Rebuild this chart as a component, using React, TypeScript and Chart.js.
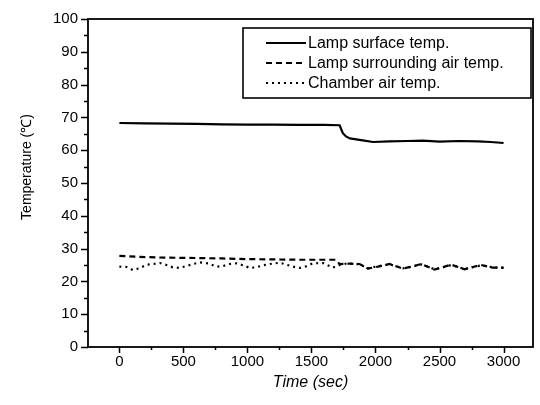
import { useEffect, useRef } from "react";
import { Chart, registerables } from "chart.js";
Chart.register(...registerables);

const seriesLabels = ["Lamp surface temp.", "Lamp surrounding air temp.", "Chamber air temp."];

const timeSurface = [0, 200, 400, 600, 800, 1000, 1200, 1400, 1600, 1720, 1745, 1770, 1800, 1850, 1900, 1980, 2110, 2250, 2370, 2500, 2650, 2800, 2900, 3000];
const lampSurface = [68.3, 68.2, 68.1, 68.0, 67.9, 67.8, 67.8, 67.7, 67.7, 67.6, 65.2, 64.2, 63.6, 63.3, 63.0, 62.5, 62.7, 62.8, 62.9, 62.6, 62.8, 62.7, 62.5, 62.2];

const timeSurround = [0, 150, 300, 450, 650, 800, 1000, 1200, 1400, 1600, 1690, 1720, 1800, 1876, 1941, 2030, 2110, 2214, 2290, 2357, 2461, 2530, 2591, 2695, 2760, 2825, 2915, 3000];
const lampSurround = [27.8, 27.5, 27.3, 27.2, 27.1, 27.0, 26.8, 26.7, 26.6, 26.6, 26.6, 25.3, 25.4, 25.3, 23.9, 24.6, 25.3, 23.9, 24.6, 25.3, 23.6, 24.4, 25.1, 23.7, 24.4, 25.0, 24.2, 24.2];

const timeChamber = [0, 57, 104, 156, 213, 265, 317, 369, 416, 468, 525, 577, 629, 694, 759, 811, 863, 915, 967, 1019, 1071, 1122, 1175, 1253, 1305, 1356, 1408, 1460, 1510, 1590, 1666, 1720, 1780, 1876, 1941, 2030, 2110, 2214, 2290, 2357, 2461, 2530, 2591, 2695, 2760, 2825, 2915, 3000];
const chamberAir = [24.5, 24.4, 23.5, 24.0, 25.1, 25.3, 25.6, 25.0, 24.3, 24.1, 24.7, 25.3, 25.8, 25.5, 24.5, 24.7, 25.3, 25.5, 24.9, 24.1, 24.3, 24.9, 25.3, 25.7, 25.1, 24.5, 24.1, 24.6, 25.5, 25.6, 24.2, 25.0, 25.5, 25.2, 24.0, 24.7, 25.2, 24.0, 24.5, 25.2, 23.7, 24.3, 25.0, 23.8, 24.3, 24.9, 24.3, 24.1];

const xTicks = [0, 500, 1000, 1500, 2000, 2500, 3000];
const xMinorTicks = [250, 750, 1250, 1750, 2250, 2750];
const yTicks = [0, 10, 20, 30, 40, 50, 60, 70, 80, 90, 100];
const yMinorTicks = [5, 15, 25, 35, 45, 55, 65, 75, 85, 95];

const xTitle = "Time (sec)";
const yTitle = "Temperature (\u2103)";

const FONT = "'Liberation Sans', Arial, Helvetica, sans-serif";

const toPoints = (xs: number[], ys: number[]) => xs.map((x, i) => ({ x, y: ys[i] }));

const framePlugin = {
  id: "frameAndLegend",
  afterDraw(chart: any) {
    const ctx = chart.ctx;
    const { left, right, top, bottom } = chart.chartArea;
    const xs = chart.scales.x;
    const ys = chart.scales.y;
    ctx.save();
    ctx.strokeStyle = "#000";
    ctx.lineWidth = 1.8;
    ctx.strokeRect(left, top, right - left, bottom - top);
    ctx.lineWidth = 1.5;
    ctx.beginPath();
    for (const v of yTicks) {
      const p = Math.round(ys.getPixelForValue(v)) + 0.5;
      ctx.moveTo(left - 7, p);
      ctx.lineTo(left, p);
    }
    for (const v of yMinorTicks) {
      const p = Math.round(ys.getPixelForValue(v)) + 0.5;
      ctx.moveTo(left - 4, p);
      ctx.lineTo(left, p);
    }
    for (const v of xTicks) {
      const p = Math.round(xs.getPixelForValue(v)) + 0.5;
      ctx.moveTo(p, bottom);
      ctx.lineTo(p, bottom + 6);
    }
    for (const v of xMinorTicks) {
      const p = Math.round(xs.getPixelForValue(v)) + 0.5;
      ctx.moveTo(p, bottom);
      ctx.lineTo(p, bottom + 3);
    }
    ctx.stroke();

    // y title
    ctx.fillStyle = "#000";
    ctx.font = "14px " + FONT;
    ctx.textAlign = "center";
    ctx.textBaseline = "middle";
    ctx.translate(27, 167);
    ctx.rotate(-Math.PI / 2);
    ctx.fillText(yTitle, 0, 0);
    ctx.restore();

    // legend
    ctx.save();
    const bx = 243, by = 28, bw = 288, bh = 70;
    ctx.fillStyle = "#fff";
    ctx.fillRect(bx, by, bw, bh);
    ctx.strokeStyle = "#000";
    ctx.lineWidth = 1.6;
    ctx.strokeRect(bx, by, bw, bh);
    ctx.font = "16px " + FONT;
    ctx.textBaseline = "middle";
    ctx.textAlign = "left";
    chart.data.datasets.forEach((ds: any, i: number) => {
      const yy = 43 + i * 20;
      ctx.beginPath();
      ctx.setLineDash(ds.borderDash || []);
      ctx.lineWidth = ds.borderWidth;
      ctx.strokeStyle = "#000";
      ctx.moveTo(266, yy);
      ctx.lineTo(306, yy);
      ctx.stroke();
      ctx.setLineDash([]);
      ctx.fillStyle = "#000";
      ctx.fillText(ds.label, 308, yy + 1);
    });
    ctx.restore();
  },
};

export default function App() {
  const ref = useRef<HTMLCanvasElement | null>(null);
  useEffect(() => {
    if (!ref.current) return;
    const chart = new Chart(ref.current, {
      type: "line",
      data: {
        datasets: [
          { label: seriesLabels[0], data: toPoints(timeSurface, lampSurface), borderColor: "#000", borderWidth: 2.2, pointRadius: 0, tension: 0, fill: false },
          { label: seriesLabels[1], data: toPoints(timeSurround, lampSurround), borderColor: "#000", borderWidth: 2.2, borderDash: [6, 4], pointRadius: 0, tension: 0, fill: false },
          { label: seriesLabels[2], data: toPoints(timeChamber, chamberAir), borderColor: "#000", borderWidth: 2.2, borderDash: [2, 4], pointRadius: 0, tension: 0, fill: false },
        ],
      },
      options: {
        responsive: false,
        animation: false,
        layout: { padding: { top: 16, right: 7, left: 0, bottom: 0 } },
        plugins: { legend: { display: false }, tooltip: { enabled: false } },
        scales: {
          x: {
            type: "linear",
            min: -245,
            max: 3230,
            afterBuildTicks: (s: any) => { s.ticks = xTicks.map((v) => ({ value: v })); },
            afterFit: (s: any) => { s.height = 58; },
            grid: { display: false, drawTicks: false },
            border: { display: false },
            ticks: { padding: 6, color: "#000", font: { family: FONT, size: 15 }, maxRotation: 0, callback: (v: any) => String(v) },
            title: { display: true, text: xTitle, color: "#000", font: { family: FONT, size: 16, style: "italic" }, padding: { top: 4, bottom: 13 } },
          },
          y: {
            type: "linear",
            min: 0,
            max: 100,
            afterBuildTicks: (s: any) => { s.ticks = yTicks.map((v) => ({ value: v })); },
            afterFit: (s: any) => { s.width = 88; },
            grid: { display: false, drawTicks: false },
            border: { display: false },
            ticks: { padding: 10, color: "#000", font: { family: FONT, size: 15 }, callback: (v: any) => String(v) },
          },
        },
      },
      plugins: [framePlugin],
    } as any);
    return () => chart.destroy();
  }, []);
  return (
    <div style={{ position: "absolute", left: 0, top: 0, width: 540, height: 405, background: "#fff" }}>
      <canvas ref={ref} width={540} height={405} />
    </div>
  );
}
